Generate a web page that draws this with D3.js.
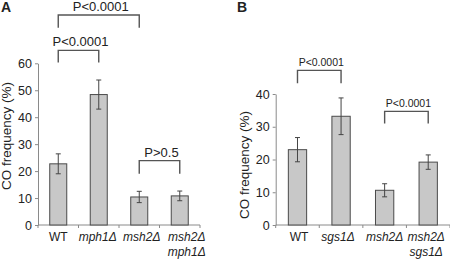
<!DOCTYPE html>
<html>
<head>
<meta charset="utf-8">
<script src="https://cdn.jsdelivr.net/npm/d3@7"></script>
<style>
  body { margin: 0; background: #fff; }
  svg { display: block; font-family: "Liberation Sans", Arial, sans-serif; }
  text { fill: #222; }
</style>
</head>
<body>
<script>
const width = 450
const height = 262

// panel A: mph1
const catsA = [["WT"], ["mph1Δ"], ["msh2Δ"], ["msh2Δ", "mph1Δ"]]
const meanA = [22.7, 48.4, 10.4, 10.8]
const errA = [3.7, 5.4, 2.1, 1.8]
const ticksA = [0, 10, 20, 30, 40, 50, 60]
const compA = [
  { a: 0, b: 2, top: 77.9, leg: 73.2, label: "P<0.0001" },
  { a: 0, b: 1, top: 64.8, leg: 60.3, label: "P<0.0001" },
  { a: 2, b: 3, top: 23.9, leg: 19, label: "P>0.5" }
]

// panel B: sgs1
const catsB = [["WT"], ["sgs1Δ"], ["msh2Δ"], ["msh2Δ", "sgs1Δ"]]
const meanB = [23, 33.2, 10.6, 19.2]
const errB = [3.7, 5.6, 2.0, 2.2]
const ticksB = [0, 10, 20, 30, 40]
const compB = [
  { a: 0, b: 1, top: 47.2, leg: 43.3, label: "P<0.0001" },
  { a: 2, b: 3, top: 34.7, leg: 31, label: "P<0.0001" }
]

const svg = d3.select('body').append('svg')
  .attr('width', width)
  .attr('height', height)

function panel (opt) {
  const g = svg.append('g')
  const x = d3.scaleBand()
    .domain(d3.range(opt.cats.length))
    .range([opt.x0, opt.x1])
    .paddingInner(0.58).paddingOuter(0.29)
  const y = d3.scaleLinear()
    .domain([0, d3.max(opt.ticks)])
    .range([225, opt.yTop])

  // y axis
  const ya = g.append('g')
    .attr('transform', `translate(${opt.x0},0)`)
    .call(d3.axisLeft(y).tickValues(opt.ticks).tickSize(3).tickPadding(3).tickSizeOuter(0))
  ya.select('.domain').attr('stroke', '#8a8a8a')
  ya.selectAll('.tick line').attr('stroke', '#8a8a8a')
  ya.selectAll('.tick text')
    .style('font-size', opt.tickFont + 'px')
    .attr('fill', '#222')
    .attr('font-family', null)

  // x axis line with ticks at band edges
  g.append('line')
    .attr('x1', opt.x0).attr('x2', opt.x1)
    .attr('y1', y(0)).attr('y2', y(0))
    .attr('stroke', '#8a8a8a')
  const edges = d3.range(opt.cats.length + 1).map(i => opt.x0 + i * x.step())
  g.selectAll('.xt').data(edges).enter().append('line')
    .attr('x1', d => d).attr('x2', d => d)
    .attr('y1', y(0)).attr('y2', y(0) + 3)
    .attr('stroke', '#8a8a8a')

  // bars
  g.selectAll('.bar').data(opt.means).enter().append('rect')
    .attr('x', (d, i) => x(i))
    .attr('width', x.bandwidth())
    .attr('y', d => y(d))
    .attr('height', d => y(0) - y(d))
    .attr('fill', '#c8c8c8')
    .attr('stroke', '#4a4a4a')
    .attr('stroke-width', 1)

  // error bars
  const eb = g.selectAll('.err').data(opt.means).enter().append('g')
    .attr('stroke', '#444').attr('stroke-width', 1)
  const cx = i => x(i) + x.bandwidth() / 2
  eb.append('line')
    .attr('x1', (d, i) => cx(i)).attr('x2', (d, i) => cx(i))
    .attr('y1', (d, i) => y(d + opt.err[i])).attr('y2', (d, i) => y(d - opt.err[i]))
  eb.append('line')
    .attr('x1', (d, i) => cx(i) - 2.5).attr('x2', (d, i) => cx(i) + 2.5)
    .attr('y1', (d, i) => y(d + opt.err[i])).attr('y2', (d, i) => y(d + opt.err[i]))
  eb.append('line')
    .attr('x1', (d, i) => cx(i) - 2.5).attr('x2', (d, i) => cx(i) + 2.5)
    .attr('y1', (d, i) => y(d - opt.err[i])).attr('y2', (d, i) => y(d - opt.err[i]))

  // category labels (small nudges so the italic names do not collide)
  const lab = g.selectAll('.cat').data(opt.cats).enter().append('text')
    .attr('text-anchor', 'middle')
    .style('font-size', opt.catFont + 'px')
    .attr('y', 240.5)
    .style('font-style', d => d[0] === 'WT' ? 'normal' : 'italic')
  lab.each(function (d, i) {
    d3.select(this).selectAll('tspan').data(d).enter().append('tspan')
      .attr('x', cx(i) + opt.catShift[i])
      .attr('dy', (t, k) => k ? 15.5 : 0)
      .text(t => t)
  })

  // comparison brackets
  const br = g.selectAll('.cmp').data(opt.comps).enter().append('g')
  br.append('path')
    .attr('d', d => `M${cx(d.a)},${y(d.leg)}V${y(d.top)}H${cx(d.b)}V${y(d.leg)}`)
    .attr('fill', 'none')
    .attr('stroke', '#555')
    .attr('stroke-width', 1.4)
  br.append('text')
    .attr('x', d => (cx(d.a) + cx(d.b)) / 2 + 2)
    .attr('y', d => y(d.top) - 4)
    .attr('text-anchor', 'middle')
    .style('font-size', opt.pFont + 'px')
    .text(d => d.label)

  // y title
  g.append('text')
    .attr('transform', `translate(${opt.titleX},${opt.titleY}) rotate(-90)`)
    .attr('text-anchor', 'middle')
    .style('font-size', '13.5px')
    .text('CO frequency (%)')

  // panel letter
  g.append('text')
    .attr('x', opt.letterX).attr('y', 12)
    .style('font-size', '14px')
    .style('font-weight', 'bold')
    .text(opt.letter)
}

panel({ cats: catsA, means: meanA, err: errA, ticks: ticksA, comps: compA,
  x0: 38, x1: 200, yTop: 63.3, tickFont: 12.5, catFont: 12, pFont: 13,
  catShift: [0, -1, 2.5, 7],
  titleX: 10.5, titleY: 136, letter: 'A', letterX: 1 })

panel({ cats: catsB, means: meanB, err: errB, ticks: ticksB, comps: compB,
  x0: 275.7, x1: 450, yTop: 94, tickFont: 12.5, catFont: 12, pFont: 10.5,
  catShift: [1.5, -3, 0, -2],
  titleX: 249, titleY: 165, letter: 'B', letterX: 237 })
</script>
</body>
</html>
